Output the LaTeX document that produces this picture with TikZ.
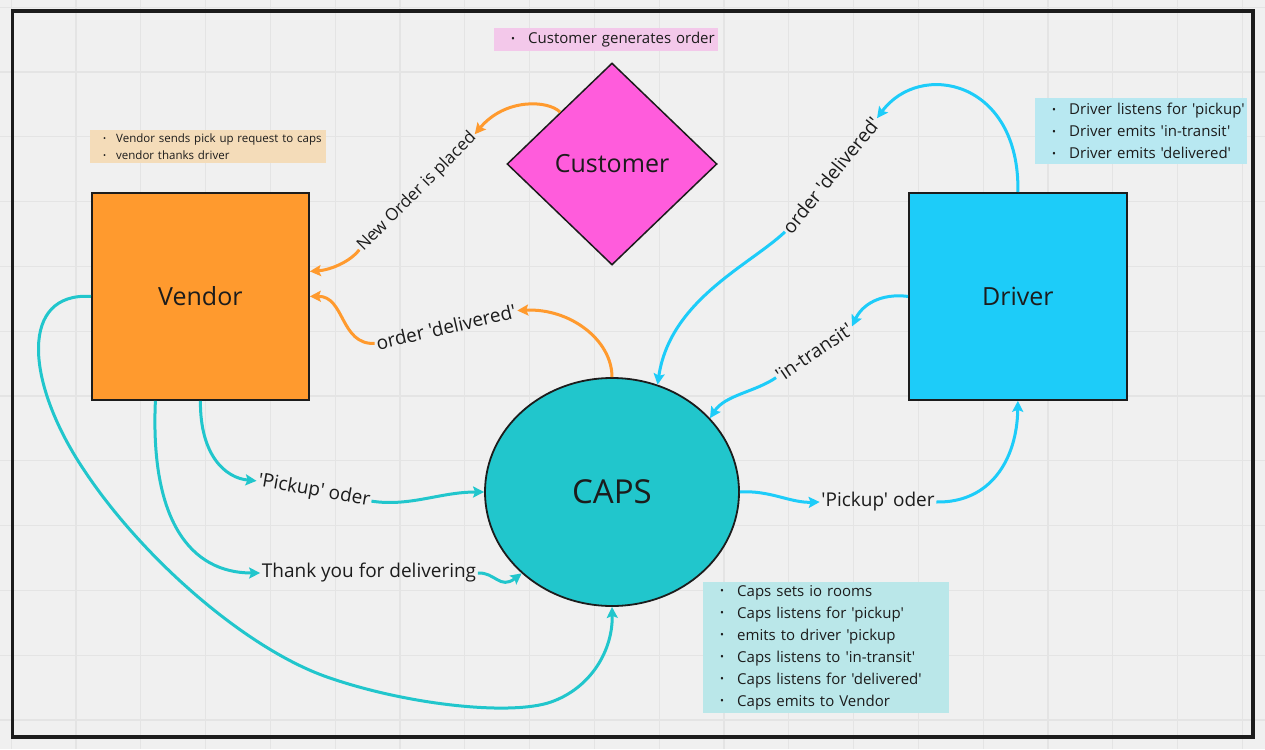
\documentclass[tikz,border=0pt]{standalone}
\usepackage{fontspec}
\setmainfont{Open Sans}[Ligatures=TeXOff]
\usetikzlibrary{shapes.geometric, arrows.meta, positioning}

\definecolor{bgpaper}{HTML}{F0F0F0}
\definecolor{gridgray}{HTML}{E4E4E4}
\definecolor{inkdark}{HTML}{1C1C1C}
\definecolor{vendorfill}{HTML}{FF9A2E}
\definecolor{custfill}{HTML}{FF5CDC}
\definecolor{driverfill}{HTML}{1DCCF9}
\definecolor{capsfill}{HTML}{21C6CC}
\definecolor{notepink}{HTML}{F3C8EA}
\definecolor{notetan}{HTML}{F4DCB9}
\definecolor{notecyan}{HTML}{B8E8F1}
\definecolor{noteteal}{HTML}{BAE7E9}

\newcommand{\nbul}[3]{\hspace*{#1}\makebox[#2][l]{\raisebox{0.1em}{\scalebox{0.7}{•}}}\mbox{#3}}

\tikzset{
  box/.style={draw=inkdark, line width=1.8pt, minimum width=217pt, minimum height=207pt,
    inner sep=0pt, anchor=north west, text=inkdark, font=\fontsize{25}{30}\selectfont},
  flowlbl/.style={inner sep=1.5pt, text=inkdark, font=\fontsize{19}{22}\selectfont},
  note/.style={anchor=north west, inner sep=0pt, align=left, text=inkdark},
  wire/.style={line width=3pt, -{Stealth[length=11pt, width=11pt, inset=2pt]}},
  owire/.style={wire, draw=vendorfill},
  cwire/.style={wire, draw=driverfill},
  twire/.style={wire, draw=capsfill},
  gridline/.style={draw=gridgray, line width=1.2pt}
}

\begin{document}
\begin{tikzpicture}[x=1pt, y=-1pt]
    % paper and board
    \fill[bgpaper] (0,0) rectangle (1265,749);
    \useasboundingbox (0,0) rectangle (1265,749);
    \foreach \gx in {0,...,19}
        \draw[gridline] ({11.2+64.8*\gx},0) -- ({11.2+64.8*\gx},749);
    \foreach \gy in {0,...,11}
        \draw[gridline] (0,{7.2+64.8*\gy}) -- (1265,{7.2+64.8*\gy});
    \draw[draw=inkdark, line width=3.6pt] (12.3,11) rectangle (1253,737);

    % actors
    \node[box, fill=vendorfill] (vendor) at (91,192) {Vendor};
    \node[box, fill=driverfill, minimum width=218pt] (driver) at (908,192) {Driver};
    \node[diamond, draw=inkdark, line width=1.5pt, fill=custfill, minimum width=210pt,
        minimum height=202pt, inner sep=0pt, text=inkdark,
        font=\fontsize{25}{30}\selectfont] (cust) at (612,164) {Customer};
    \node[ellipse, draw=inkdark, line width=1.8pt, fill=capsfill, minimum width=254pt,
        minimum height=228pt, inner sep=0pt, text=inkdark,
        font=\fontsize{33}{40}\selectfont] (caps) at (612,492) {CAPS};

    % notes
    \node[note, fill=notepink, minimum width=224pt, minimum height=23pt, text width=224pt,
        font=\fontsize{15}{21}\selectfont] (custnote) at (494,28)
        {\nbul{17pt}{17pt}{Customer generates order}};
    \node[note, fill=notetan, minimum width=236pt, minimum height=33pt, text width=236pt,
        font=\fontsize{11.5}{16.7}\selectfont] (vendnote) at (90,130)
        {\nbul{13pt}{13pt}{Vendor sends pick up request to caps}\\
         \nbul{13pt}{13pt}{vendor thanks driver}};
    \node[note, fill=notecyan, minimum width=212pt, minimum height=66pt, text width=212pt,
        font=\fontsize{15}{22}\selectfont] (drivnote) at (1035,98)
        {\nbul{17pt}{17pt}{Driver listens for 'pickup'}\\
         \nbul{17pt}{17pt}{Driver emits 'in-transit'}\\
         \nbul{17pt}{17pt}{Driver emits 'delivered'}};
    \node[note, fill=noteteal, minimum width=246pt, minimum height=131pt, text width=246pt,
        font=\fontsize{15}{22}\selectfont] (capsnote) at (703,582)
        {\nbul{17pt}{17pt}{Caps sets io rooms}\\
         \nbul{17pt}{17pt}{Caps listens for 'pickup'}\\
         \nbul{17pt}{17pt}{emits to driver 'pickup}\\
         \nbul{17pt}{17pt}{Caps listens to 'in-transit'}\\
         \nbul{17pt}{17pt}{Caps listens for 'delivered'}\\
         \nbul{17pt}{17pt}{Caps emits to Vendor}};

    % connector labels
    \node[flowlbl, rotate=45, font=\fontsize{17}{20}\selectfont] (newordr) at (417,192) {New Order is placed};
    \node[flowlbl, rotate=13] (vdeliv) at (446,327) {order 'delivered'};
    \node[flowlbl, rotate=51] (ddeliv) at (831,175) {order 'delivered'};
    \node[flowlbl, rotate=34] (transit) at (814,352) {'in-transit'};
    \node[flowlbl, rotate=-10] (lpick) at (314,491) {'Pickup' oder};
    \node[flowlbl] (rpick) at (878,502) {'Pickup' oder};
    \node[flowlbl] (thanks) at (369,573) {Thank you for delivering};

    % orange
    \draw[owire] (cust.135) .. controls (548,100) and (505,98) .. (newordr.east);
    \draw[owire] (newordr.west) .. controls (350,262) and (330,270) .. ([yshift=25pt]vendor.east);
    \draw[owire] (caps.north) .. controls (612,340) and (570,308) .. (vdeliv.east);
    \draw[owire] (vdeliv.west) .. controls (340,345) and (345,296) .. (vendor.east);

    % driver side
    \draw[cwire] (driver.north) .. controls (1020,80) and (920,60) .. (ddeliv.east);
    \draw[cwire] (ddeliv.west) .. controls (750,265) and (670,300) .. (caps.67);
    \draw[cwire] (driver.west) .. controls (880,293) and (862,305) .. (transit.east);
    \draw[cwire] (transit.west) .. controls (755,392) and (725,395) .. (caps.37);
    \draw[cwire] (caps.east) .. controls (770,490) and (790,503) .. (rpick.west);
    \draw[cwire] (rpick.east) .. controls (990,503) and (1017,460) .. (driver.south);

    % vendor side
    \draw[twire] (vendor.south) .. controls (200,455) and (225,478) .. (lpick.west);
    \draw[twire] (lpick.east) .. controls (410,507) and (440,492) .. (caps.west);
    \draw[twire] ([xshift=-45pt]vendor.south) .. controls (150,520) and (190,573) .. (thanks.west);
    \draw[twire] (thanks.east) .. controls (495,572) and (500,590) .. (caps.222);
    \draw[twire] (vendor.west) .. controls (20,292) and (25,380) .. (82,467)
        .. controls (142,559) and (247,649) .. (327,677)
        .. controls (407,705) and (511,716) .. (551,702)
        .. controls (591,688) and (613,650) .. (caps.south);
\end{tikzpicture}
\end{document}
